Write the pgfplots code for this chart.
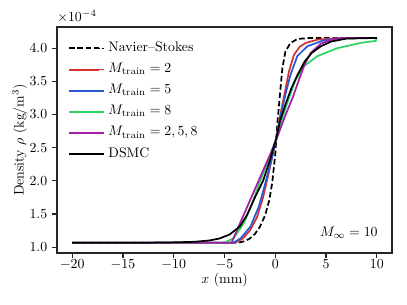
\documentclass[border=0pt]{standalone}
\usepackage{pgfplots}
\pgfplotsset{compat=1.18}
\definecolor{cred}{RGB}{214,50,50}
\definecolor{cblue}{RGB}{40,90,215}
\definecolor{cgreen}{RGB}{46,210,100}
\definecolor{cpurple}{RGB}{165,30,165}
\begin{document}
\begin{tikzpicture}
\begin{axis}[
  scale only axis,
  width=241.2bp, height=162.7bp,
  xmin=-21.5, xmax=11.5,
  ymin=0.912, ymax=4.32,
  xtick={-20,-15,-10,-5,0,5,10},
  ytick={1.0,1.5,2.0,2.5,3.0,3.5,4.0},
  yticklabel style={/pgf/number format/fixed, /pgf/number format/fixed zerofill, /pgf/number format/precision=1},
  xticklabel style={yshift=2.5bp},
  tick align=outside,
  xtick pos=bottom, ytick pos=left,
  major tick length=3.5bp,
  axis line style={black!85, line width=0.8bp},
  every tick/.style={black!85, line width=0.8bp},
  xlabel={$x$ (mm)},
  ylabel={Density $\rho$ (kg/m$^3$)},
  xlabel style={yshift=4bp},
  ylabel style={yshift=-5bp},
  legend style={draw=none, fill=none, at={(0.02,0.963)}, anchor=north west,
    row sep=0.75bp, nodes={inner sep=2.5pt, text height=7pt, text depth=2.5pt}},
  legend cell align=left,
  legend image code/.code={\draw[#1, line width=1.45bp] (0bp,0bp) -- (21.6bp,0bp); \path (0bp,0bp) -- (25.2bp,0bp);},
  clip mode=individual,
]
\addplot[black, line width=1.25bp, dash pattern=on 4bp off 2bp] coordinates {
(-20,1.066) (-4.2,1.066) (-3.5,1.072) (-3,1.09) (-2.5,1.13) (-2,1.2) (-1.5,1.31) (-1,1.48) (-0.6,1.70) (-0.3,1.97) (0,2.40) (0.2,2.85) (0.45,3.28) (0.7,3.70) (1.0,3.95) (1.5,4.08) (2.2,4.14) (3.5,4.155) (10,4.155)};
\addlegendentry{Navier--Stokes}
\addplot[cred, line width=1.25bp] coordinates {
(-20,1.066) (-3.9,1.068) (-3.2,1.13) (-2.5,1.25) (-1.8,1.45) (-1.2,1.75) (-0.6,2.15) (0.1,2.64) (0.5,3.0) (0.9,3.3) (1.35,3.65) (1.84,3.90) (2.4,4.02) (3.0,4.08) (4.2,4.13) (6,4.15) (10,4.155)};
\addlegendentry{$M_{\mathrm{train}}=2$}
\addplot[cblue, line width=1.25bp] coordinates {
(-20,1.066) (-4.1,1.068) (-3.4,1.135) (-2.44,1.31) (-1.62,1.61) (-1.0,1.95) (-0.4,2.30) (0.1,2.64) (0.55,3.0) (1.0,3.3) (1.5,3.6) (2.17,3.88) (3.16,4.03) (4.8,4.12) (6.5,4.15) (10,4.155)};
\addlegendentry{$M_{\mathrm{train}}=5$}
\addplot[cgreen, line width=1.25bp] coordinates {
(-20,1.066) (-5.0,1.068) (-4.1,1.135) (-3.1,1.36) (-2.27,1.66) (-1.6,1.95) (-0.7,2.3) (0.1,2.64) (0.7,2.95) (1.35,3.25) (2.0,3.52) (2.83,3.73) (4.15,3.88) (6.1,4.0) (8.4,4.08) (9.9,4.11) (10,4.155)};
\addlegendentry{$M_{\mathrm{train}}=8$}
\addplot[cpurple, line width=1.25bp] coordinates {
(-20,1.066) (-4.3,1.068) (-3.5,1.35) (-2.5,1.70) (-1.5,2.05) (-0.5,2.40) (0.1,2.62) (0.9,2.95) (1.7,3.25) (2.4,3.55) (2.9,3.76) (3.5,3.93) (4.5,4.07) (5.8,4.14) (7,4.155) (10,4.155)};
\addlegendentry{$M_{\mathrm{train}}=2,5,8$}
\addplot[black, line width=1.25bp] coordinates {
(-20,1.066) (-12,1.068) (-10,1.072) (-8,1.08) (-6.5,1.10) (-5.5,1.13) (-4.5,1.19) (-3.5,1.31) (-2.8,1.48) (-2,1.75) (-1.2,2.0) (-0.5,2.32) (0.1,2.64) (0.5,2.92) (1.0,3.15) (1.6,3.4) (2.2,3.6) (2.9,3.8) (3.6,3.93) (4.5,4.03) (5.5,4.1) (7,4.145) (10,4.155)};
\addlegendentry{DSMC}
\node[anchor=south west, inner sep=0pt] at (rel axis cs:0,1) [yshift=3bp] {$\times10^{-4}$};
\node[anchor=east, inner sep=0pt] at (rel axis cs:0.958,0.088) {$M_\infty = 10$};
\end{axis}
\path ([shift={(-41.04bp,-37.44bp)}]current axis.south west) rectangle ([shift={(10.8bp,19.44bp)}]current axis.north east);
\end{tikzpicture}
\end{document}
